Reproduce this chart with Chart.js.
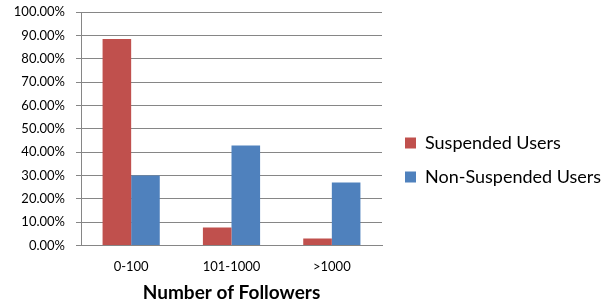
<!DOCTYPE html>
<html lang="en">
<head>
    <meta charset="UTF-8">
    <title>Followers of suspended users</title>
    <script src="https://cdn.jsdelivr.net/npm/chart.js"></script>
    <style>
body {
    margin: 0;
    padding: 0;
    background-color: white;
}

.chart-container {
    width: 611px;
    height: 307px;
}
    </style>
</head>
<body>
    <div class="chart-container">
        <canvas id="chartFollowers"></canvas>
    </div>

    <script>
// Data
const categories = ['0-100', '101-1000', '>1000'];
const suspendedUsers = [88.4, 7.8, 3.0];
const nonSuspendedUsers = [30.0, 42.9, 27.0];
const yTicks = [0, 10, 20, 30, 40, 50, 60, 70, 80, 90, 100];

// Keep the legend column as wide as in the original picture
// and nudge it to where it sits in the original
const legendPlace = {
    id: 'legendPlace',
    afterInit: function(chart) {
        const legend = chart.legend;
        const origFit = legend.fit.bind(legend);
        legend.fit = function() {
            origFit();
            this.width = 229;
        };
    },
    afterLayout: function(chart) {
        const legend = chart.legend;
        legend.left += 7;
        legend.right += 7;
        legend.top += 2;
        legend.bottom += 2;
    }
};

const ctx = document.getElementById('chartFollowers').getContext('2d');
const chart = new Chart(ctx, {
    type: 'bar',
    data: {
        labels: categories,
        datasets: [{
            label: 'Suspended Users',
            data: suspendedUsers,
            backgroundColor: '#C0504D'
        }, {
            label: 'Non-Suspended Users',
            data: nonSuspendedUsers,
            backgroundColor: '#4F81BD'
        }]
    },
    plugins: [legendPlace],
    options: {
        responsive: true,
        maintainAspectRatio: false,
        animation: false,
        layout: {
            padding: { top: 12, left: 0, right: 0, bottom: 3 }
        },
        datasets: {
            bar: {
                categoryPercentage: 0.57,
                barPercentage: 1.0
            }
        },
        plugins: {
            tooltip: { enabled: false },
            legend: {
                position: 'right',
                maxWidth: 300,
                labels: {
                    boxWidth: 11,
                    boxHeight: 11,
                    padding: 16,
                    color: '#000',
                    font: { family: 'Lato', size: 18 }
                }
            }
        },
        scales: {
            x: {
                grid: { display: false },
                border: { display: true, color: '#868686', width: 1 },
                ticks: {
                    color: '#000',
                    padding: 5,
                    font: { family: 'Lato', size: 13 }
                },
                title: {
                    display: true,
                    text: 'Number of Followers',
                    color: '#000',
                    padding: { top: 2, bottom: 0 },
                    font: { family: 'Lato', size: 19, weight: 'bold' }
                }
            },
            y: {
                min: 0,
                max: 100,
                afterBuildTicks: function(axis) {
                    axis.ticks = yTicks.map(v => ({ value: v }));
                },
                afterFit: function(axis) {
                    axis.width = 81;
                    axis.paddingTop = 0;
                },
                grid: {
                    color: '#868686',
                    tickLength: 5,
                    tickColor: '#868686'
                },
                border: { display: true, color: '#868686', width: 1 },
                ticks: {
                    color: '#000',
                    padding: 11,
                    font: { family: 'Lato', size: 13 },
                    callback: function(value) {
                        return value.toFixed(2) + '%';
                    }
                }
            }
        }
    }
});
    </script>
</body>
</html>
